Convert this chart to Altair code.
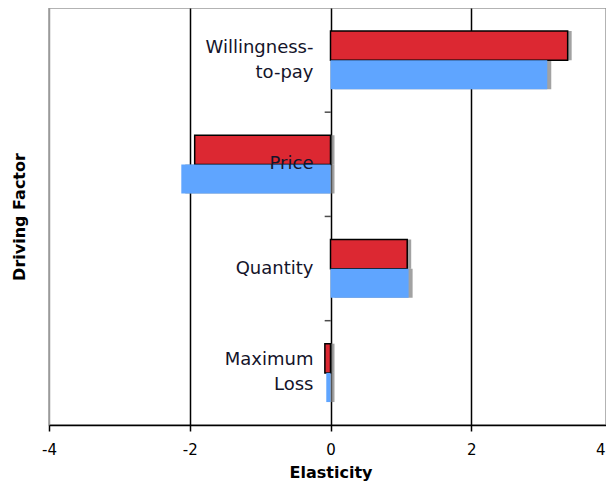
import altair as alt
import pandas as pd

factors = ["Willingness-to-pay", "Price", "Quantity", "Maximum Loss"]
factor_labels = ["Willingness-\nto-pay", "Price", "Quantity", "Maximum\nLoss"]
series_names = ["Series 1", "Series 2"]
series1 = [3.37, -1.93, 1.09, -0.08]
series2 = [3.08, -2.12, 1.11, -0.06]
x_ticks = [-4, -2, 0, 2, 4]
boundary_factors = ["Price", "Quantity", "Maximum Loss"]

rows = []
for f, a, b in zip(factors, series1, series2):
    rows.append({"factor": f, "series": series_names[0], "value": a})
    rows.append({"factor": f, "series": series_names[1], "value": b})
df = pd.DataFrame(rows)
labels_df = pd.DataFrame({"factor": factors, "label": factor_labels})
bounds_df = pd.DataFrame({"factor": boundary_factors})

FONT = "DejaVu Sans"
yscale = alt.Scale(domain=factors, paddingInner=0.44, paddingOuter=0.22)
# the reference's plot runs slightly past the right edge of the window
xscale = alt.Scale(domain=[-4, 4], nice=False, zero=False, range=[0, 563])

y_axis = alt.Axis(
    title="Driving Factor", labels=False, ticks=False, domain=False,
    titleFont=FONT, titleFontSize=16, titleFontWeight="bold",
    titlePadding=22, titleColor="black", grid=False,
)
x_axis = alt.Axis(
    values=x_ticks, title="Elasticity",
    labelExpr="'' + datum.value",
    grid=True,
    gridColor={"condition": {"test": "abs(datum.value) == 4", "value": "#9a9a9a"}, "value": "black"},
    gridWidth=1.5,
    domainColor="black", domainWidth=1.5,
    tickColor="black", tickWidth=1.5, tickSize=6,
    labelFont=FONT, labelFontSize=15, labelColor="black", labelPadding=11,
    labelAlign={"condition": {"test": "datum.value == 4", "value": "right"}, "value": "center"},
    labelOffset={"condition": {"test": "datum.value == 4", "value": -7}, "value": 0},
    titleFont=FONT, titleFontSize=16, titleFontWeight="bold", titleColor="black",
    titlePadding=7,
)

base = alt.Chart(df)

shadow = base.mark_bar(color="#7a7a7a", opacity=0.7, xOffset=4, yOffset=4).encode(
    x=alt.X("value:Q", scale=xscale, axis=x_axis),
    y=alt.Y("factor:N", scale=yscale, sort=factors, axis=y_axis),
    yOffset=alt.YOffset("series:N", sort=series_names),
)

bars = base.mark_bar(strokeWidth=1.5).encode(
    x=alt.X("value:Q", scale=xscale, axis=x_axis),
    y=alt.Y("factor:N", scale=yscale, sort=factors, axis=y_axis),
    yOffset=alt.YOffset("series:N", sort=series_names),
    color=alt.Color("series:N", scale=alt.Scale(domain=series_names, range=["#DC2832", "#5FA5FF"]), legend=None),
    stroke=alt.Stroke("series:N", scale=alt.Scale(domain=series_names, range=["black", "rgba(0,0,0,0)"]), legend=None),
)

ticks = alt.Chart(bounds_df).mark_tick(
    orient="horizontal", color="black", thickness=1.5, size=6, yOffset=-23
).encode(
    x=alt.datum(-0.04),
    y=alt.Y("factor:N", scale=yscale, sort=factors, bandPosition=0),
)

text_style = dict(
    align="right", baseline="middle", dx=-17, lineBreak="\n", lineHeight=25,
    font=FONT, fontSize=18, color="#14142a",
)
labels_one = alt.Chart(labels_df).transform_filter(
    "indexof(datum.label, '\\n') < 0"
).mark_text(**text_style).encode(
    x=alt.datum(0),
    y=alt.Y("factor:N", scale=yscale, sort=factors),
    text="label:N",
)
labels_two = alt.Chart(labels_df).transform_filter(
    "indexof(datum.label, '\\n') >= 0"
).mark_text(dy=-12.5, **text_style).encode(
    x=alt.datum(0),
    y=alt.Y("factor:N", scale=yscale, sort=factors),
    text="label:N",
)

chart = alt.layer(shadow, bars, ticks, labels_one, labels_two).properties(
    width=557, height=417,
    autosize=alt.AutoSizeParams(type="none"),
    padding={"left": 41, "top": 0, "right": 0, "bottom": 56},
    background="white",
).configure_view(stroke="#9a9a9a", strokeWidth=1.5)

chart.save("out.html", embed_options={"renderer": "svg", "actions": False})
